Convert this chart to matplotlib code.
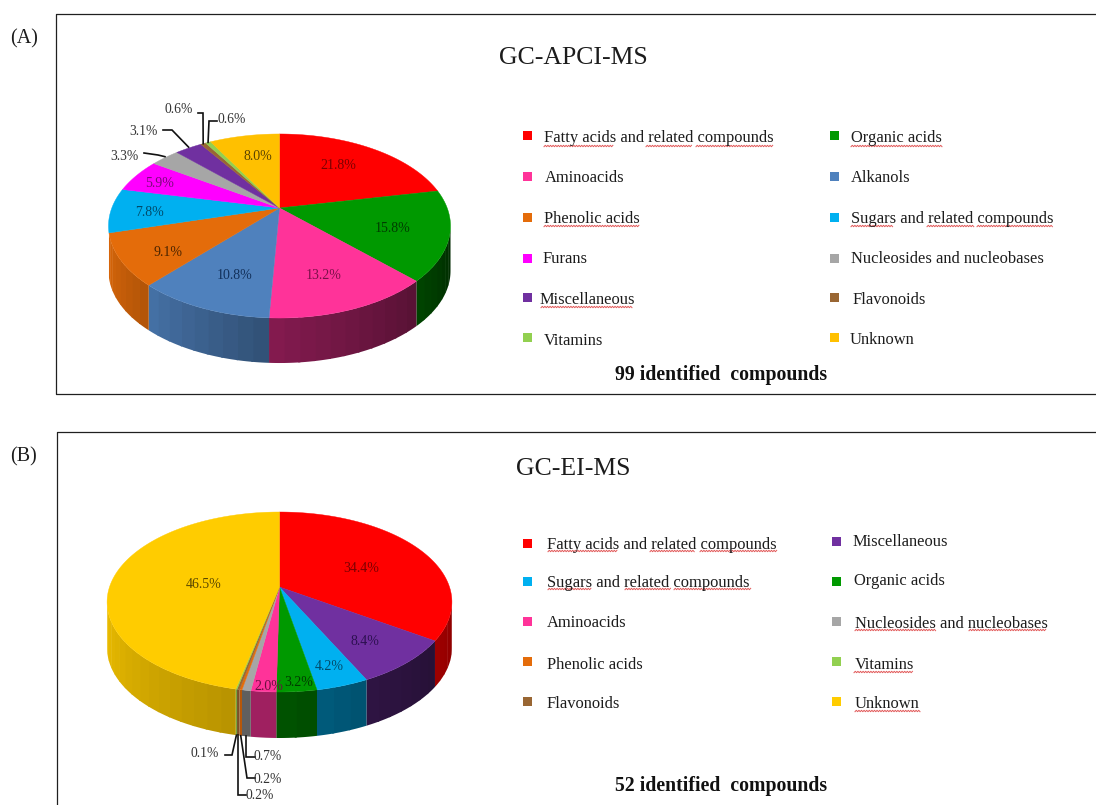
import numpy as np
import matplotlib
matplotlib.use("Agg")
import matplotlib.pyplot as plt
from matplotlib.colors import to_rgb
from matplotlib.patches import Rectangle

plt.rcParams['font.family'] = ['Liberation Serif', 'DejaVu Serif']

# ---------- data ----------
names_a = ["Fatty acids and related compounds", "Organic acids", "Aminoacids", "Alkanols",
           "Phenolic acids", "Sugars and related compounds", "Furans",
           "Nucleosides and nucleobases", "Miscellaneous", "Flavonoids", "Vitamins", "Unknown"]
values_a = [21.8, 15.8, 13.2, 10.8, 9.1, 7.8, 5.9, 3.3, 3.1, 0.6, 0.6, 8.0]

names_b = ["Fatty acids and related compounds", "Miscellaneous", "Sugars and related compounds",
           "Organic acids", "Aminoacids", "Nucleosides and nucleobases", "Phenolic acids",
           "Flavonoids", "Vitamins", "Unknown"]
values_b = [34.4, 8.4, 4.2, 3.2, 2.0, 0.7, 0.2, 0.2, 0.1, 46.5]
labels_b = ["34.4%", "8.4%", "4.2%", "3.2%", "2.0%", "0.7%", "0.2%", "0.2%", "0.1%", "46.5%"]

# ---------- styles ----------
colors = {"Fatty acids and related compounds": "#FF0000", "Organic acids": "#009900",
          "Aminoacids": "#FF3399", "Alkanols": "#4F81BD", "Phenolic acids": "#E46C0A",
          "Sugars and related compounds": "#00B0F0", "Furans": "#FF00FF",
          "Nucleosides and nucleobases": "#A6A6A6", "Miscellaneous": "#7030A0",
          "Flavonoids": "#996633", "Vitamins": "#92D050", "Unknown": "#FFC000"}
colors_b = dict(colors, Unknown="#FFCC00")

wall_a = {"Organic acids": (.45, .26), "Aminoacids": (.52, .34), "Alkanols": (.88, .62),
          "Phenolic acids": (.95, .78)}
wall_b = {"Fatty acids and related compounds": (.62, .55), "Miscellaneous": (.42, .34),
          "Sugars and related compounds": (.52, .46), "Organic acids": (.55, .50),
          "Aminoacids": (.65, .60), "Nucleosides and nucleobases": (.6, .55),
          "Phenolic acids": (.8, .8), "Flavonoids": (.8, .8), "Vitamins": (.8, .8),
          "Unknown": (.93, .72)}

fig = plt.figure(figsize=(10.96, 8.05), dpi=100)
ax = fig.add_axes([0, 0, 1, 1])
ax.set_xlim(0, 1096)
ax.set_ylim(805, 0)
ax.axis("off")

INK = "#1c1c1c"


def project(theta, cx, cy, R, S, k, r=1.0):
    u, v = r * np.sin(theta), r * np.cos(theta)
    d = 1 + k * v
    return cx + R * u / d, cy - S * v / d


def pie3d(names, values, cols, walls, cx, cy, R, S, k, depth):
    fr = np.array(values, float) / np.sum(values)
    edges = np.concatenate([[0], np.cumsum(fr)]) * 2 * np.pi
    t_l, t_r = 2 * np.pi - np.arccos(-k), np.arccos(-k)
    for i, name in enumerate(names):
        a, b = max(edges[i], t_r), min(edges[i + 1], t_l)
        if b > a and name in walls:
            n = max(1, int((b - a) / np.radians(4)))
            ts = np.linspace(a, b, n + 1)
            s0, s1 = walls[name]
            base = np.array(to_rgb(cols[name]))
            # painted from the far strip so each strip overlaps its neighbour
            for j in range(n):
                hi = ts[j + 1] + (np.radians(0.6) if j < n - 1 else 0)
                tt = np.linspace(ts[j], hi, 6)
                x, y = project(tt, cx, cy, R, S, k)
                f = s1 + (s0 - s1) * (j + .5) / n
                ax.fill(np.r_[x, x[::-1]], np.r_[y, y[::-1] + depth], color=base * f,
                        lw=0, zorder=2)
    for i, name in enumerate(names):
        tt = np.linspace(edges[i], edges[i + 1], max(3, int(fr[i] * 360)))
        x, y = project(tt, cx, cy, R, S, k)
        ax.fill(np.r_[cx, x], np.r_[cy, y], color=cols[name], lw=0.3, zorder=3)
    return edges


def rim(edges, i, cx, cy, R, S, k, depth=0):
    x, y = project((edges[i] + edges[i + 1]) / 2, cx, cy, R, S, k)
    return x, y + depth


def txt(x, y, s, size=11.85, color=INK, **kw):
    kw.setdefault("ha", "left")
    ax.text(x, y + 1.5, s, fontsize=size, color=color, va="center", zorder=6, **kw)


def squiggle(x0, x1, y):
    xs = np.arange(x0, x1 + .1, 1.3)
    ys = y + 0.7 * (-1.0) ** np.arange(len(xs))
    ax.plot(xs, ys, color="#e25a5a", lw=0.7, zorder=5)


def legend(items, cols):
    for name, sx, sy, tx, ty in items:
        ax.add_patch(Rectangle((sx, sy - 4.5), 9, 9, color=cols[name], lw=0, zorder=5))
        txt(tx, ty, name)


def leader(px, py, color="#111111"):
    ax.plot(px, py, color=color, lw=1.2, zorder=5, solid_joinstyle="miter")


# ---------- frames ----------
for xs, ys in [([1096, 56, 56, 1096], [14, 14, 394, 394]),
               ([1096, 57, 57], [432, 432, 805])]:
    ax.plot(xs, ys, color="#202020", lw=0.9, zorder=1)
txt(10, 37, "(A)", size=14.5)
txt(10, 455, "(B)", size=14.5)

# ---------- panel A ----------
txt(573, 56, "GC-APCI-MS", size=18.5, ha="center")
PA = dict(cx=279.5, cy=208, R=167.7, S=88.5, k=0.1956)
ea = pie3d(names_a, values_a, colors, wall_a, depth=45, **PA)
inside_a = [(338, 165, "21.8%", "#7a0000"), (393, 228, "15.8%", "#003c00"),
            (324, 275, "13.2%", "#7a1048"), (235, 275, "10.8%", "#12305a"),
            (168, 252, "9.1%", "#4a2400"), (149, 212, "7.8%", "#004a6a"),
            (160, 183, "5.9%", "#7a0a7a"), (258, 156, "8.0%", "#5a4400")]
for x, y, s, c in inside_a:
    txt(x, y - 1, s, size=10, color=c, ha="center")
outer_a = [(124, 156, "3.3%"), (143, 131, "3.1%"), (179, 109, "0.6%"), (232, 119, "0.6%")]
for x, y, s in outer_a:
    txt(x, y - 1, s, size=9.8, color="#333333", ha="center")
rx, ry = rim(ea, 7, **PA)
leader([144, 158, rx], [153, 155, ry - 1])
rx, ry = rim(ea, 8, **PA)
leader([163, 172, rx], [130, 130, ry - 1])
rx, ry = rim(ea, 9, **PA)
leader([198, 203, rx], [113, 113, ry])
rx, ry = rim(ea, 10, **PA)
leader([217, 209, rx], [121, 121, ry])

legend([("Fatty acids and related compounds", 522.5, 136, 544, 137),
        ("Organic acids", 830, 136, 851, 137),
        ("Aminoacids", 522.5, 177, 545, 177),
        ("Alkanols", 830, 177, 851, 177),
        ("Phenolic acids", 522.5, 217, 544, 217),
        ("Sugars and related compounds", 830, 217, 851, 217),
        ("Furans", 522.5, 258, 543, 257),
        ("Nucleosides and nucleobases", 830, 258, 851, 257),
        ("Miscellaneous", 522.5, 298, 540, 298),
        ("Flavonoids", 830, 298, 853, 298),
        ("Vitamins", 522.5, 338, 544, 339),
        ("Unknown", 830, 338, 850, 338)], colors)
for x0, x1, y in [(544, 614, 146), (646, 692, 146), (696, 773, 146), (851, 943, 146),
                  (544, 639, 226), (851, 893, 226), (927, 974, 226), (977, 1053, 226),
                  (541, 633, 307)]:
    squiggle(x0, x1, y)
txt(721, 373, "99 identified  compounds", size=14.2, ha="center", fontweight="bold", color="#111111")

# ---------- panel B ----------
txt(573, 467, "GC-EI-MS", size=18.5, ha="center")
PB = dict(cx=279.5, cy=587, R=170, S=87.5, k=0.1667)
eb = pie3d(names_b, values_b, colors_b, wall_b, depth=46, **PB)
inside_b = [(361, 568, 0, "#7a0000"), (365, 641, 1, "#2c1050"), (329, 666, 2, "#004a6a"),
            (299, 682, 3, "#003c00"), (269, 686, 4, "#6a0f40"), (204, 584, 9, "#5a4800")]
for x, y, i, c in inside_b:
    txt(x, y - 1, labels_b[i], size=10, color=c, ha="center")
outer_b = [(268, 756, 5), (268, 779, 6), (260, 795, 7), (205, 753, 8)]
for x, y, i in outer_b:
    txt(x, y - 1, labels_b[i], size=9.8, color="#333333", ha="center")
rx, ry = rim(eb, 5, depth=46, **PB)
leader([rx, rx, 255], [ry, 757, 757])
rx, ry = rim(eb, 6, depth=46, **PB)
leader([rx, 247, 255], [ry, 778, 778])
rx, ry = rim(eb, 7, depth=46, **PB)
leader([rx, rx, 246], [ry, 795, 795])
rx, ry = rim(eb, 8, depth=46, **PB)
leader([rx, 232, 225], [ry, 755, 755])

legend([("Fatty acids and related compounds", 522.5, 543, 547, 543),
        ("Miscellaneous", 832, 541, 853, 540),
        ("Sugars and related compounds", 522.5, 581, 547, 581),
        ("Organic acids", 832, 581, 854, 579),
        ("Aminoacids", 522.5, 621, 547, 621),
        ("Nucleosides and nucleobases", 832, 621, 855, 622),
        ("Phenolic acids", 522.5, 661, 547, 663),
        ("Vitamins", 832, 661, 855, 663),
        ("Flavonoids", 522.5, 701, 547, 702),
        ("Unknown", 832, 701, 855, 702)], colors_b)
for x0, x1, y in [(548, 618, 551), (650, 695, 551), (700, 777, 551),
                  (548, 591, 589), (625, 671, 589), (674, 751, 589),
                  (855, 936, 630), (969, 1046, 630), (854, 913, 672), (855, 921, 711)]:
    squiggle(x0, x1, y)
txt(721, 784, "52 identified  compounds", size=14.2, ha="center", fontweight="bold", color="#111111")

fig.savefig("out.png", dpi=100, facecolor="white")
